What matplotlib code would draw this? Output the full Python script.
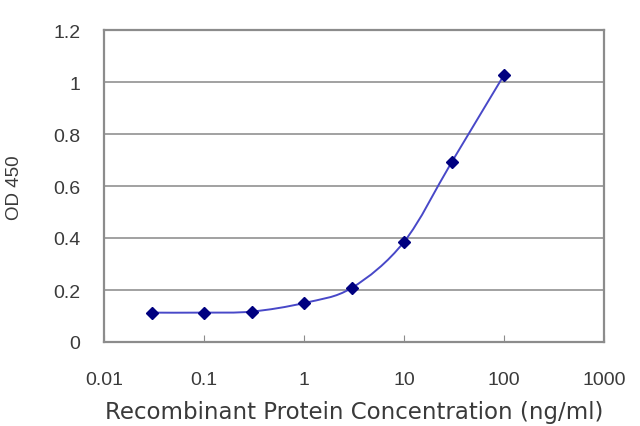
import matplotlib
matplotlib.use("Agg")
import numpy as np
import matplotlib.pyplot as plt
from matplotlib.path import Path
from matplotlib.patches import PathPatch

concentracao = [0.03, 0.1, 0.3, 1, 3, 10, 30, 100]
od450 = [0.113, 0.113, 0.117, 0.150, 0.208, 0.385, 0.692, 1.027]
xticks = [0.01, 0.1, 1, 10, 100, 1000]
xtick_labels = ["0.01", "0.1", "1", "10", "100", "1000"]
yticks = [0, 0.2, 0.4, 0.6, 0.8, 1, 1.2]
ytick_labels = ["0", "0.2", "0.4", "0.6", "0.8", "1", "1.2"]

plt.rcParams['font.family'] = ['Liberation Sans', 'DejaVu Sans']
cor_texto = '#3a3a3a'

fig = plt.figure(figsize=(6.4, 4.27), dpi=100)
ax = fig.add_axes([104 / 640, 1 - 343 / 427, 500 / 640, 312 / 427])


# linha suavizada (estilo Excel) - Catmull-Rom em espaço log
def curva_suave(xs, ys):
    lx = np.log10(xs)
    pts = np.column_stack([lx, ys])
    ext = np.vstack([pts[0], pts, pts[-1]])
    verts = [pts[0]]
    codes = [Path.MOVETO]
    for i in range(1, len(ext) - 2):
        p0, p1, p2, p3 = ext[i - 1], ext[i], ext[i + 1], ext[i + 2]
        c1 = p1 + (p2 - p0) / 6
        c2 = p2 - (p3 - p1) / 6
        verts += [c1, c2, p2]
        codes += [Path.CURVE4] * 3
    verts = np.array(verts)
    verts[:, 0] = 10 ** verts[:, 0]
    return Path(verts, codes)


ax.add_patch(PathPatch(curva_suave(concentracao, od450), facecolor='none',
                       edgecolor='#4848c8', linewidth=1.4, zorder=3))
ax.plot(concentracao, od450, linestyle='none', marker='D', markersize=6.5,
        color='#000080', zorder=4)

ax.set_xscale('log')
ax.set_xlim(0.01, 1000)
ax.set_ylim(0, 1.2)
ax.set_xticks(xticks)
ax.set_xticklabels(xtick_labels)
ax.set_yticks(yticks)
ax.set_yticklabels(ytick_labels)
ax.minorticks_off()

ax.grid(axis='y', color='#9a9a9a', linewidth=1.3)
ax.set_axisbelow(True)
for lado in ax.spines.values():
    lado.set_color('#8c8c8c')
    lado.set_linewidth(1.6)

ax.tick_params(axis='x', direction='in', length=5, color='#8c8c8c',
               labelsize=14, labelcolor=cor_texto, pad=21)
ax.tick_params(axis='y', length=0, labelsize=14, labelcolor=cor_texto, pad=17)

ax.set_xlabel('Recombinant Protein Concentration (ng/ml)', fontsize=16.5,
              color=cor_texto, family=['DejaVu Sans'])
ax.xaxis.set_label_coords(0.5, -0.186)
ax.set_ylabel('OD 450', fontsize=13.5, color=cor_texto)
ax.yaxis.set_label_coords(-0.162, 0.497)

fig.savefig('out.png', dpi=100)
